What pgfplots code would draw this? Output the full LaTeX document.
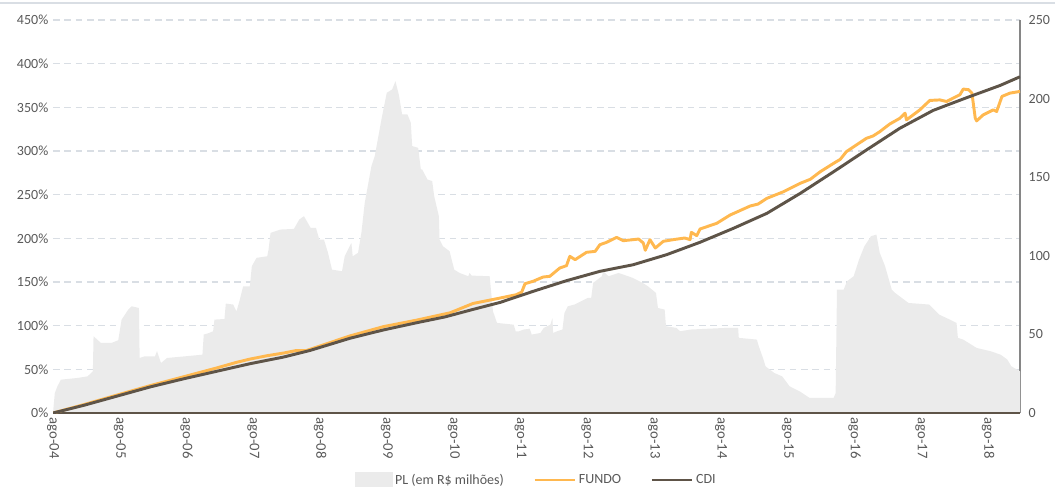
\documentclass[border=0pt]{standalone}
\usepackage{fontspec}
\setmainfont{Carlito}
\usepackage{pgfplots}
\usepackage{pgfplotstable}
\pgfplotsset{compat=1.18}
\definecolor{plgray}{HTML}{EBEBEB}
\definecolor{fundo}{HTML}{FFB84F}
\definecolor{cdi}{HTML}{5E5448}
\definecolor{txt}{HTML}{595959}
\definecolor{gridc}{HTML}{D9DEE4}
\definecolor{raxis}{HTML}{868686}

\pgfplotstableread{
x y
2004.583 0
2004.61 12.7
2004.65 17.0
2004.70 21.2
2004.95 22.3
2005.10 23.3
2005.18 26.5
2005.19 48.8
2005.30 44.6
2005.46 44.6
2005.56 46.3
2005.61 59.4
2005.71 65.8
2005.76 67.9
2005.87 66.8
2005.88 35.0
2005.96 36.1
2006.11 36.1
2006.14 39.3
2006.20 31.8
2006.29 35.0
2006.57 36.1
2006.82 37.1
2006.84 49.9
2006.92 50.9
2006.98 52.0
2007.00 59.4
2007.15 59.8
2007.17 69.6
2007.28 69.0
2007.33 64.7
2007.38 72.1
2007.43 80.6
2007.53 80.6
2007.56 93.4
2007.63 98.7
2007.79 99.7
2007.81 104.0
2007.84 114.6
2007.99 116.7
2008.19 117.1
2008.27 123.1
2008.34 125.2
2008.44 117.8
2008.52 117.8
2008.57 110.3
2008.64 110.3
2008.70 101.9
2008.76 91.2
2008.91 90.2
2008.95 99.7
2009.05 108.2
2009.07 99.7
2009.15 101.9
2009.20 114.6
2009.25 133.7
2009.35 157.0
2009.40 163.4
2009.50 186.7
2009.58 203.7
2009.66 205.8
2009.71 211.1
2009.76 202.6
2009.81 189.9
2009.89 189.9
2009.94 184.6
2009.96 169.8
2010.05 168.7
2010.09 154.9
2010.11 154.9
2010.19 148.5
2010.26 147.5
2010.29 137.9
2010.36 125.2
2010.37 110.3
2010.42 106.1
2010.52 102.9
2010.59 91.2
2010.67 89.1
2010.80 87.0
2010.82 89.1
2010.85 87.4
2011.12 87.0
2011.17 64.7
2011.23 57.3
2011.48 56.2
2011.51 52.0
2011.56 52.0
2011.63 53.1
2011.72 53.6
2011.75 49.9
2011.88 50.9
2011.93 54.1
2012.03 56.2
2012.06 60.5
2012.07 50.9
2012.13 52.0
2012.21 53.1
2012.24 63.7
2012.29 67.9
2012.39 69.0
2012.59 73.2
2012.64 73.2
2012.67 82.8
2012.80 87.0
2012.82 90.2
2012.90 87.0
2013.05 89.1
2013.26 86.0
2013.41 82.8
2013.49 80.6
2013.61 76.4
2013.64 66.8
2013.74 65.8
2013.76 55.2
2013.92 54.1
2013.97 52.0
2014.13 53.1
2014.33 53.5
2014.64 54.1
2014.84 54.1
2014.85 47.8
2015.12 46.7
2015.15 42.4
2015.22 34.0
2015.25 29.7
2015.38 25.5
2015.50 23.3
2015.61 17.0
2015.76 13.8
2015.91 9.6
2016.17 9.6
2016.27 9.6
2016.30 12.7
2016.32 78.5
2016.42 78.5
2016.47 83.8
2016.57 87.0
2016.65 97.6
2016.73 106.1
2016.83 112.5
2016.91 113.5
2016.96 101.9
2017.04 93.4
2017.14 78.5
2017.19 76.4
2017.39 70.0
2017.70 69.0
2017.85 62.6
2018.01 59.4
2018.11 57.3
2018.13 47.8
2018.21 46.7
2018.41 41.4
2018.62 39.3
2018.77 37.1
2018.87 34.0
2018.93 29.7
2019.06 26.5
}\pldata

\pgfplotstableread{
x y
2004.583 0
2005.04 8.7
2005.54 19.3
2006.04 29.9
2006.53 39.0
2007.03 47.7
2007.53 56.4
2008.03 64.0
2008.43 71.6
2009.03 85.6
2009.53 95.1
2010.03 103.4
2010.45 110.0
2010.87 118.6
2011.28 126.7
2011.77 139.3
2012.27 151.5
2012.77 162.2
2013.27 169.8
2013.77 181.3
2014.27 195.5
2014.77 211.5
2015.27 228.6
2015.77 251.5
2016.27 276.3
2016.76 301.1
2017.26 326.0
2017.76 346.5
2018.26 361.0
2018.76 375.0
2019.06 385.0
}\cdidata

\pgfplotstableread{
x y
2004.583 0
2005.04 9.5
2005.54 20.5
2006.04 31.4
2006.53 41.3
2007.03 51.5
2007.33 58.0
2007.53 61.7
2007.78 65.5
2008.03 68.6
2008.23 71.6
2008.38 71.6
2008.53 75.4
2009.03 88.3
2009.53 98.9
2010.03 106.4
2010.53 114.8
2010.87 125.4
2011.28 131.7
2011.52 135.5
2011.60 138.5
2011.65 148.1
2011.77 150.8
2011.92 155.7
2012.02 156.5
2012.17 166.0
2012.27 168.7
2012.32 179.4
2012.40 175.6
2012.57 184.0
2012.70 185.1
2012.77 192.7
2012.87 195.4
2013.02 201.1
2013.12 197.3
2013.27 198.5
2013.35 199.2
2013.42 194.7
2013.45 186.3
2013.52 198.5
2013.60 188.9
2013.72 196.6
2013.87 198.5
2014.04 200.4
2014.12 198.5
2014.14 206.9
2014.22 203.1
2014.27 210.7
2014.52 217.2
2014.72 226.7
2015.02 237.0
2015.14 239.3
2015.27 245.8
2015.52 253.4
2015.77 263.0
2015.92 267.6
2016.07 276.3
2016.27 285.9
2016.37 290.5
2016.46 299.2
2016.61 306.9
2016.76 314.5
2016.86 317.2
2016.96 322.1
2017.11 330.9
2017.26 337.4
2017.34 343.3
2017.36 335.6
2017.56 347.1
2017.71 357.9
2017.86 358.5
2017.96 356.7
2018.16 364.4
2018.21 370.9
2018.29 370.2
2018.34 366.3
2018.39 337.5
2018.41 334.5
2018.51 341.4
2018.66 347.1
2018.71 345.2
2018.79 362.5
2018.91 366.3
2019.06 368.2
}\fundodata

\pgfplotsset{base/.style={
  width=725.25pt, height=294.75pt, scale only axis,
  xmin=2004.583, xmax=2019.06,
  major tick length=0pt,
  tick label style={font=\fontsize{10.5}{12}\selectfont, text=txt},
}}

\begin{document}
\begin{tikzpicture}
\path[use as bounding box] (-39.75pt,-54.75pt) rectangle (751.5pt,309.75pt);
\draw[gridc, line width=0.8pt] (-39.75pt,307.5pt) -- (751.5pt,307.5pt);

% grid and left axis labels
\begin{axis}[base, ymin=0, ymax=450,
  axis x line=none, axis y line*=left, y axis line style={draw=none},
  ytick={0,50,100,150,200,250,300,350,400,450},
  yticklabels={0\%,50\%,100\%,150\%,200\%,250\%,300\%,350\%,400\%,450\%},
  ymajorgrids, grid style={gridc, line width=0.8pt, dash pattern=on 5pt off 3.5pt}]
\addplot[draw=none] coordinates {(2005,10)};
\end{axis}

% PL area, right axis
\begin{axis}[base, ymin=0, ymax=250,
  axis x line=none, axis y line*=right,
  y axis line style={raxis, line width=1.5pt},
  ytick={0,50,100,150,200,250},
  yticklabels={0,50,100,150,200,250},
  yticklabel style={anchor=west, xshift=3pt}]
\addplot[fill=plgray, draw=none] table[x=x,y=y] {\pldata} \closedcycle;
\end{axis}

% lines
\begin{axis}[base, ymin=0, ymax=450,
  axis y line=none, axis x line*=bottom,
  x axis line style={cdi, line width=2.2pt},
  xtick={2004.583,2005.583,2006.583,2007.583,2008.583,2009.583,2010.583,2011.583,2012.583,2013.583,2014.583,2015.583,2016.583,2017.583,2018.583},
  xticklabels={ago-04,ago-05,ago-06,ago-07,ago-08,ago-09,ago-10,ago-11,ago-12,ago-13,ago-14,ago-15,ago-16,ago-17,ago-18},
  xticklabel style={rotate=-90, anchor=west, font=\fontsize{11}{12}\selectfont},
  legend columns=3,
  legend style={draw=none, fill=none, at={(0.5,-0.1705)}, anchor=center,
    font=\fontsize{10.5}{12}\selectfont, text=txt,
    /tikz/every even column/.append style={column sep=20pt}},
  ]
\addlegendimage{legend image code/.code={\fill[plgray] (0pt,-5pt) rectangle (28pt,5.5pt);}}
\addlegendentry{PL (em R\$ milhões)}
\addplot[fundo, line width=2.2pt, line join=round, legend image code/.code={\draw (0pt,0pt) -- (30pt,0pt);}] table[x=x,y=y] {\fundodata};
\addlegendentry{FUNDO}
\addplot[cdi, line width=2.2pt, line join=round, legend image code/.code={\draw (0pt,0pt) -- (30pt,0pt);}] table[x=x,y=y] {\cdidata};
\addlegendentry{CDI}
\end{axis}
\end{tikzpicture}
\end{document}
